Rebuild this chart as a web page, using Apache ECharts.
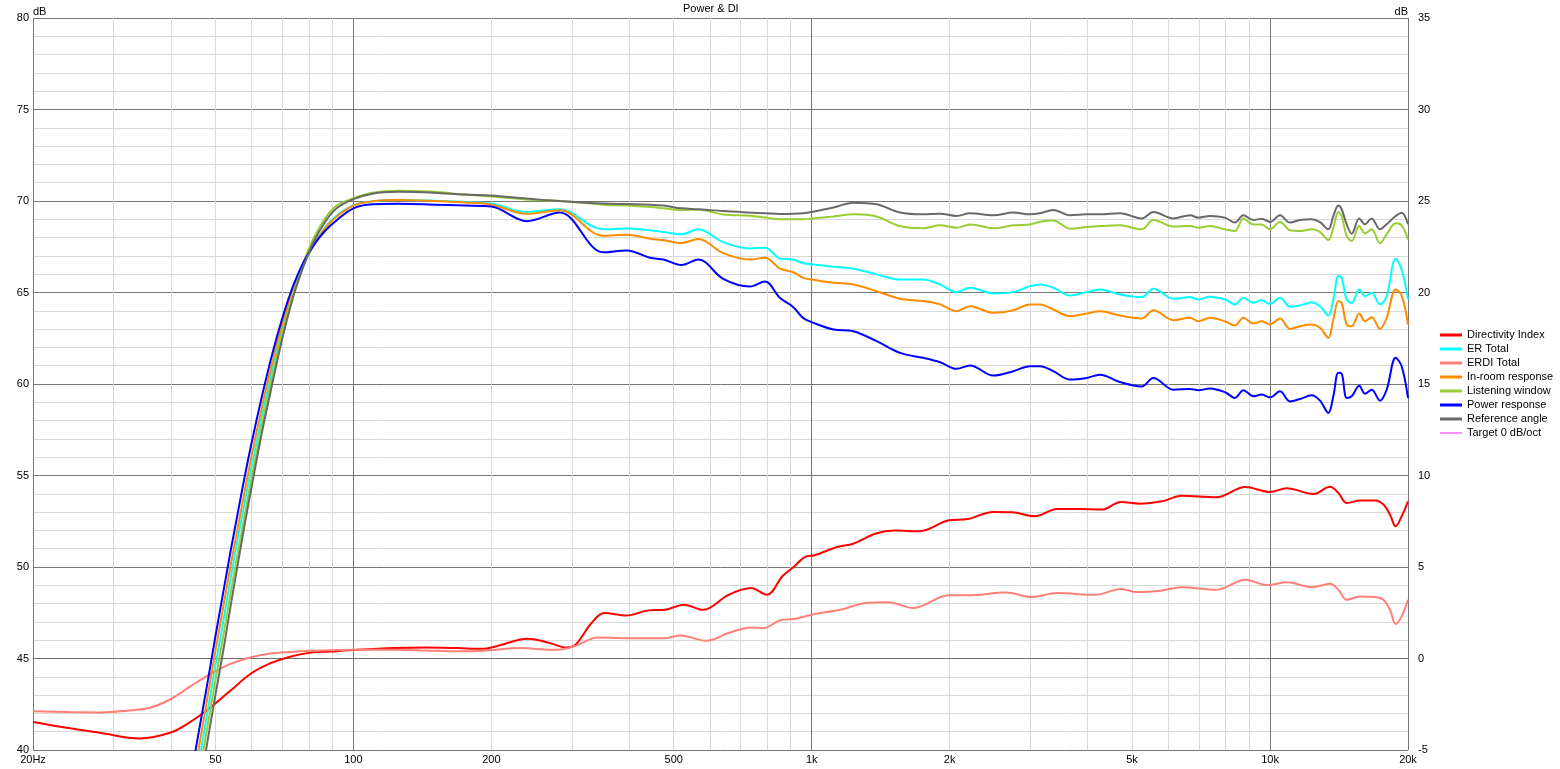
<!DOCTYPE html>
<html><head><meta charset="utf-8">
<script src="https://cdn.jsdelivr.net/npm/echarts@6/dist/echarts.min.js"></script>
<style>html,body{margin:0;padding:0;background:#fff}#c{width:1560px;height:769px}</style>
</head><body><div id="c"></div>
<script>
// ---------- data ----------
const freqs = [44,46,48,50,52,54,56,58,60,63,66,70,74,78,82,87,92,100,110,125,150,175,200,239,282,351,395,444,475,520,566,641,733,791,853,912,959,1000,1115,1233,1386,1558,1752,1906,2071,2216,2491,2754,2994,3148,3366,3662,3981,4256,4705,5248,5565,6152,6690,6975,7396,7975,8385,8745,9194,9590,10000,10512,11053,11626,12326,12853,13403,13744,14094,14332,14696,15070,15657,16112,16664,17374,17968,18797,19373,20000];

const referenceAngle = [35.0,37.7,40.4,43.0,45.4,47.9,50.2,52.4,54.4,57.2,59.6,62.5,64.8,66.5,67.8,68.9,69.6,70.1,70.4,70.5,70.45,70.35,70.3,70.13,70.0,69.86,69.83,69.8,69.75,69.6,69.55,69.45,69.37,69.33,69.29,69.3,69.33,69.4,69.64,69.91,69.82,69.37,69.27,69.31,69.18,69.33,69.22,69.37,69.27,69.33,69.51,69.22,69.27,69.27,69.33,69.05,69.4,69.05,69.22,69.09,69.18,69.09,68.82,69.22,68.96,69.03,68.85,69.22,68.82,68.96,69.0,68.85,68.45,69.18,69.76,69.55,68.73,68.21,69.04,68.73,69.05,68.45,68.73,69.18,69.36,68.73];

const listeningWindow = [35.7,38.5,41.2,43.8,46.2,48.6,50.8,52.9,54.9,57.6,60.0,62.8,65.0,66.7,68.0,69.1,69.75,70.15,70.45,70.56,70.5,70.35,70.25,70.08,70.0,69.8,69.75,69.67,69.6,69.5,69.53,69.26,69.2,69.1,69.0,69.0,69.0,69.04,69.15,69.27,69.15,68.63,68.51,68.67,68.54,68.72,68.51,68.67,68.72,68.87,68.94,68.49,68.58,68.63,68.67,68.45,68.96,68.60,68.63,68.54,68.63,68.45,68.36,69.04,68.72,68.72,68.45,68.85,68.40,68.36,68.45,68.31,67.87,68.54,69.40,69.18,68.09,67.81,68.63,68.23,68.45,67.69,68.18,68.78,68.67,67.90];

const erTotal = [36.5,39.3,42.0,44.6,47.0,49.4,51.6,53.6,55.5,58.1,60.4,63.0,65.0,66.5,67.6,68.6,69.2,69.77,69.98,70.05,70.02,69.95,69.86,69.4,69.55,68.45,68.5,68.4,68.3,68.18,68.45,67.75,67.4,67.45,66.85,66.8,66.6,66.54,66.41,66.30,65.99,65.71,65.71,65.44,65.02,65.26,64.95,65.02,65.35,65.44,65.26,64.84,65.02,65.17,64.89,64.75,65.21,64.66,64.75,64.62,64.77,64.62,64.35,64.71,64.44,64.57,64.38,64.71,64.22,64.29,64.47,64.25,63.74,64.62,65.90,65.80,64.62,64.43,65.17,64.80,64.98,64.35,64.80,66.85,66.26,64.62];

const inRoom = [37.3,40.1,42.8,45.4,47.8,50.1,52.2,54.2,56.1,58.6,60.8,63.3,65.2,66.6,67.6,68.55,69.15,69.75,69.98,70.05,70.0,69.92,69.8,69.3,69.5,68.1,68.15,67.94,67.85,67.7,67.92,67.15,66.8,66.9,66.3,66.1,65.8,65.71,65.53,65.44,65.07,64.66,64.53,64.35,63.98,64.25,63.89,64.03,64.35,64.35,64.07,63.71,63.85,63.98,63.74,63.58,64.03,63.49,63.62,63.43,63.62,63.43,63.20,63.62,63.31,63.43,63.25,63.58,63.01,63.16,63.25,63.07,62.52,63.53,64.53,64.43,63.25,63.16,63.85,63.43,63.65,63.01,63.62,65.17,64.84,63.25];

const powerResponse = [38.2,41.0,43.6,46.2,48.6,50.9,53.0,55.0,56.8,59.2,61.3,63.6,65.4,66.7,67.6,68.4,68.95,69.6,69.82,69.85,69.8,69.75,69.7,68.9,69.37,67.2,67.3,66.9,66.8,66.5,66.8,65.75,65.33,65.6,64.7,64.2,63.6,63.38,62.98,62.88,62.34,61.70,61.43,61.19,60.83,61.01,60.46,60.70,60.97,60.97,60.70,60.24,60.33,60.51,60.11,59.87,60.33,59.69,59.73,59.66,59.75,59.55,59.24,59.66,59.33,59.42,59.27,59.60,59.05,59.18,59.38,59.09,58.42,59.33,60.61,60.57,59.24,59.33,59.91,59.47,59.69,59.09,59.69,61.43,60.97,59.24];

const diFreq = [20,23.7,28,34.2,39.8,44,48.7,53.8,59.5,65.8,72.7,80.4,88.9,99.5,122.5,143.8,168.8,191.8,204.5,240.2,268.6,290.9,305.3,330.8,352.7,394.6,441.4,478.1,526.4,579.6,658.7,737.1,798.4,864.9,907.6,967.7,1015,1136,1231,1376,1515,1722,1990,2191,2489,2741,3066,3429,3836,4292,4726,5202,5820,6406,7642,8828,10000,10871,12433,13516,14094,14700,15721,16947,17676,18272,18800,19375,20000];
const directivityIndex = [-3.47,-3.79,-4.06,-4.37,-4.06,-3.48,-2.69,-1.78,-0.86,-0.27,0.10,0.32,0.38,0.46,0.57,0.60,0.57,0.53,0.66,1.08,0.84,0.60,0.75,1.94,2.48,2.35,2.63,2.66,2.94,2.66,3.48,3.85,3.48,4.52,4.94,5.55,5.64,6.09,6.27,6.82,6.99,6.95,7.55,7.62,8.01,7.99,7.77,8.17,8.17,8.14,8.55,8.46,8.59,8.90,8.81,9.37,9.10,9.30,8.99,9.38,9.05,8.50,8.63,8.63,8.41,7.86,7.22,7.77,8.59];

const erdiFreq = [20,24,28,32,36,39.8,44,48.7,53.8,59.5,65.8,72.7,80.4,88.9,99.5,122.5,143.8,168.8,191.8,232.6,268.6,286.3,305.3,341.6,394.6,441.4,478.1,518.1,588.9,658.7,737.1,785.7,851.1,922.3,1015,1154,1312,1467,1668,1990,2191,2654,3018,3429,4157,4726,5120,5820,6406,7642,8828,9872,10869,12355,13516,14094,14700,15721,16947,17676,18272,18800,19375,20000];
const erdiTotal = [-2.88,-2.93,-2.95,-2.85,-2.69,-2.24,-1.54,-0.86,-0.31,0.05,0.27,0.36,0.42,0.45,0.48,0.48,0.44,0.39,0.42,0.57,0.48,0.51,0.70,1.15,1.11,1.11,1.11,1.26,0.97,1.39,1.70,1.66,2.08,2.17,2.43,2.66,3.03,3.08,2.76,3.45,3.45,3.61,3.36,3.58,3.48,3.80,3.63,3.72,3.90,3.76,4.31,4.00,4.16,3.90,4.08,3.76,3.21,3.39,3.36,3.21,2.66,1.88,2.30,3.21];

const xTickLabels = [20,50,100,200,500,1000,2000,5000,10000,20000];
const xMinorGrid = [20,30,40,50,60,70,80,90,200,300,400,500,600,700,800,900,2000,3000,4000,5000,6000,7000,8000,9000,20000];
const xMajorGrid = [20,100,1000,10000,20000];

// ---------- chart ----------
const FONT = '"Liberation Sans", Arial, sans-serif';
const pairs = (fs, vs) => fs.map((f, i) => [f, vs[i]]);
const fmtHz = v => (v === 20 ? '20Hz' : v >= 1000 ? (v / 1000) + 'k' : String(v));
const mk = (name, color, data, yi, w) => ({
  type: 'line', name, data, xAxisIndex: 0, yAxisIndex: yi,
  showSymbol: false, symbol: 'none', smooth: 0.35, clip: true, silent: true,
  lineStyle: { color, width: w }, itemStyle: { color }
});

const chart = echarts.init(document.getElementById('c'), null, { renderer: 'canvas' });
chart.setOption({
  animation: false,
  backgroundColor: '#fff',
  textStyle: { fontFamily: FONT },
  title: { text: 'Power & DI', left: 683, top: 3, padding: 0, textStyle: { fontSize: 11, fontWeight: 'normal', color: '#000', fontFamily: FONT } },
  grid: { left: 33, right: 152, top: 18, bottom: 19, containLabel: false, outerBoundsMode: 'none' },
  legend: {
    orient: 'vertical', left: 1440, top: 328, padding: 0, itemWidth: 22, itemHeight: 3, itemGap: 0,
    selectedMode: false, icon: 'rect',
    textStyle: { fontSize: 11, lineHeight: 14, color: '#000', fontFamily: FONT },
    data: ['Directivity Index', 'ER Total', 'ERDI Total', 'In-room response', 'Listening window', 'Power response', 'Reference angle',
      { name: 'Target 0 dB/oct', icon: 'path://M0,0 L0,0 M0,1 L25,1 L25,2 L0,2 Z M25,3 L25,3' }]
  },
  xAxis: [
    {
      type: 'log', logBase: 10, min: 20, max: 20000, position: 'bottom',
      axisLine: { show: true, lineStyle: { color: '#707070', width: 1 } },
      axisTick: { show: false, customValues: xMinorGrid },
      axisLabel: { customValues: xTickLabels, formatter: fmtHz, margin: 4, color: '#000', fontSize: 11, fontFamily: FONT },
      splitLine: { show: true, lineStyle: { color: '#d9d9d9', width: 1 } },
      minorTick: { show: false }, minorSplitLine: { show: false }
    },
    {
      type: 'log', logBase: 10, min: 20, max: 20000, position: 'top',
      axisLine: { show: false }, axisLabel: { show: false },
      axisTick: { show: false, customValues: xMajorGrid },
      splitLine: { show: true, lineStyle: { color: '#767676', width: 1 } }
    }
  ],
  yAxis: [
    {
      type: 'value', min: 40, max: 80, interval: 5, position: 'left',
      name: 'dB', nameLocation: 'end', nameGap: 1, nameMoveOverlap: false,
      nameTextStyle: { align: 'left', verticalAlign: 'bottom', color: '#000', fontSize: 11, fontFamily: FONT },
      axisLine: { show: false }, axisTick: { show: false },
      axisLabel: { margin: 4, color: '#000', fontSize: 11, fontFamily: FONT },
      splitLine: { show: true, lineStyle: { color: '#767676', width: 1 } },
      minorTick: { show: false, splitNumber: 5 },
      minorSplitLine: { show: true, lineStyle: { color: '#d9d9d9', width: 1 } }
    },
    {
      type: 'value', min: -5, max: 35, interval: 5, position: 'right',
      name: 'dB', nameLocation: 'end', nameGap: 1, nameMoveOverlap: false,
      nameTextStyle: { align: 'right', verticalAlign: 'bottom', color: '#000', fontSize: 11, fontFamily: FONT },
      axisLine: { show: false }, axisTick: { show: false },
      axisLabel: { margin: 10, align: 'left', color: '#000', fontSize: 11, fontFamily: FONT },
      splitLine: { show: false }
    }
  ],
  series: [
    mk('Directivity Index', '#ff0000', pairs(diFreq, directivityIndex), 1, 2),
    mk('ER Total', '#00ffff', pairs(freqs, erTotal), 0, 2),
    mk('ERDI Total', '#ff8078', pairs(erdiFreq, erdiTotal), 1, 2),
    mk('In-room response', '#ff8c00', pairs(freqs, inRoom), 0, 2),
    mk('Listening window', '#9acd32', pairs(freqs, listeningWindow), 0, 2),
    mk('Power response', '#0000ff', pairs(freqs, powerResponse), 0, 2),
    mk('Reference angle', '#696969', pairs(freqs, referenceAngle), 0, 2),
    mk('Target 0 dB/oct', '#ff00ff', [], 0, 1)
  ]
});
</script>
</body></html>
